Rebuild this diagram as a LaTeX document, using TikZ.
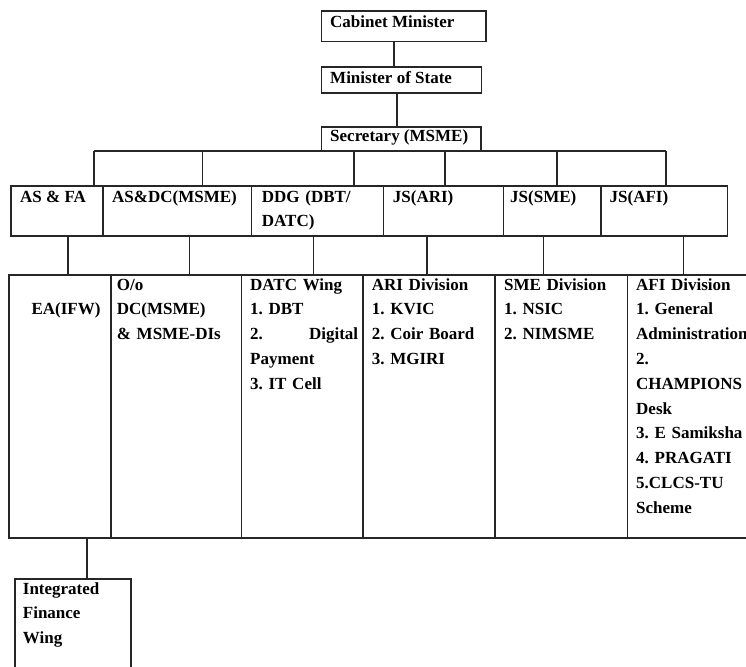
\documentclass[tikz,border=0pt]{standalone}
\usepackage{fontspec}
\setmainfont{Liberation Serif}
\frenchspacing
\begin{document}
\begin{tikzpicture}[x=1pt,y=-1pt,
  box/.style={draw=black!85, line width=1.6pt, inner sep=0pt, anchor=north west},
  link/.style={draw=black!85, line width=1.6pt},
  txt/.style={inner sep=0pt, anchor=base west, font=\bfseries\fontsize{17}{24.8}\selectfont\frenchspacing, align=left},
]
\useasboundingbox (0,0) rectangle (746,666);
\fill[white] (0,0) rectangle (746,666);
\clip (0,0) rectangle (746,666);

% top chain
\node[box, minimum width=164.3pt, minimum height=30.7pt] (cab) at (320.7,10) {};
\node[box, minimum width=160pt, minimum height=26pt] (mos) at (320.7,66) {};
\node[box, minimum width=159.3pt, minimum height=24.7pt] (sec) at (320.7,126) {};

% row 2
\node[box, minimum width=92.3pt, minimum height=50pt] (asfa) at (10,185) {};
\node[box, minimum width=148.4pt, minimum height=50pt] (asdc) at (102.3,185) {};
\node[box, minimum width=132pt, minimum height=50pt] (ddg) at (250.7,185) {};
\node[box, minimum width=120pt, minimum height=50pt] (jsari) at (382.7,185) {};
\node[box, minimum width=97.3pt, minimum height=50pt] (jssme) at (502.7,185) {};
\node[box, minimum width=126.7pt, minimum height=50pt] (jsafi) at (600,185) {};

% row 3
\node[box, minimum width=102pt, minimum height=263pt] (ea) at (8,274) {};
\node[box, minimum width=130.7pt, minimum height=263pt] (oo) at (110,274) {};
\node[box, minimum width=121.6pt, minimum height=263pt] (datc) at (240.7,274) {};
\node[box, minimum width=132pt, minimum height=263pt] (ari) at (362.3,274) {};
\node[box, minimum width=132.4pt, minimum height=263pt] (sme) at (494.3,274) {};
\node[box, minimum width=140pt, minimum height=263pt] (afi) at (626.7,274) {};

% bottom
\node[box, minimum width=116pt, minimum height=110pt] (ifw) at (14,578) {};

% connectors top
\draw[link] ([xshift=73.3pt]cab.south west) -- ([xshift=73.3pt]mos.north west);
\draw[link] ([xshift=76pt]mos.south west) -- ([xshift=76pt]sec.north west);

\coordinate (b1) at (94,150.7);
\coordinate (b2) at (202.3,150.7);
\coordinate (b3) at (354,150.7);
\coordinate (b4) at (445,150.7);
\coordinate (b5) at (556.7,150.7);
\coordinate (b6) at (666,150.7);
\draw[link] (b1) -- (b6);
\draw[link] (b1) -- (b1 |- asfa.north);
\draw[link] (b2) -- (b2 |- asdc.north);
\draw[link] (b3) -- (b3 |- ddg.north);
\draw[link] (b4) -- (b4 |- jsari.north);
\draw[link] (b5) -- (b5 |- jssme.north);
\draw[link] (b6) -- (b6 |- jsafi.north);

\coordinate (c1) at ([xshift=57.7pt]asfa.south west);
\coordinate (c2) at ([xshift=87pt]asdc.south west);
\coordinate (c3) at ([xshift=62.6pt]ddg.south west);
\coordinate (c4) at ([xshift=44pt]jsari.south west);
\coordinate (c5) at ([xshift=40.6pt]jssme.south west);
\coordinate (c6) at ([xshift=83.3pt]jsafi.south west);
\draw[link] (c1) -- (c1 |- ea.north);
\draw[link] (c2) -- (c2 |- oo.north);
\draw[link] (c3) -- (c3 |- datc.north);
\draw[link] (c4) -- (c4 |- ari.north);
\draw[link] (c5) -- (c5 |- sme.north);
\draw[link] (c6) -- (c6 |- afi.north);

\coordinate (c7) at ([xshift=78.7pt]ea.south west);
\draw[link] (c7) -- (c7 |- ifw.north);

% texts
\node[txt] (tcab) at (330,27.3) {Cabinet Minister};
\node[txt] (tmos) at (330,83.3) {Minister of State};
\node[txt] (tsec) at (330,141.7) {Secretary (MSME)};

\node[txt] (tasfa) at (20,202) {AS \& FA};
\node[txt] (tasdc) at (112,202) {AS\&DC(MSME)};
\node[txt, text width=115pt] (tddg) at (261.7,202) {DDG (DBT/\\DATC)};
\node[txt] (tjsari) at (392.7,202) {JS(ARI)};
\node[txt] (tjssme) at (510,202) {JS(SME)};
\node[txt] (tjsafi) at (609.5,202) {JS(AFI)};

\node[txt, anchor=base east] (tea) at (100.7,314.8) {EA(IFW)};
\node[txt, text width=120pt] (too) at (116.7,290) {O/o\\DC(MSME)\\\& MSME-DIs};
\node[txt, text width=108pt] (tdatc) at (250,290) {DATC Wing\\1. DBT\\\makebox[108pt][s]{2.\hfill Digital}\\Payment\\3. IT Cell};
\node[txt, text width=122pt] (tari) at (371.7,290) {ARI Division\\1. KVIC\\2. Coir Board\\3. MGIRI};
\node[txt, text width=120pt] (tsme) at (504,290) {SME Division\\1. NSIC\\2. NIMSME};
\node[txt, text width=130pt] (tafi) at (636,290) {AFI Division\\1. General\\Administration\\2.\\CHAMPIONS\\Desk\\3. E Samiksha\\4. PRAGATI\\5.CLCS-TU\\Scheme};

\node[txt, text width=100pt] (tifw) at (22.7,594) {Integrated\\Finance\\Wing};
\end{tikzpicture}
\end{document}
